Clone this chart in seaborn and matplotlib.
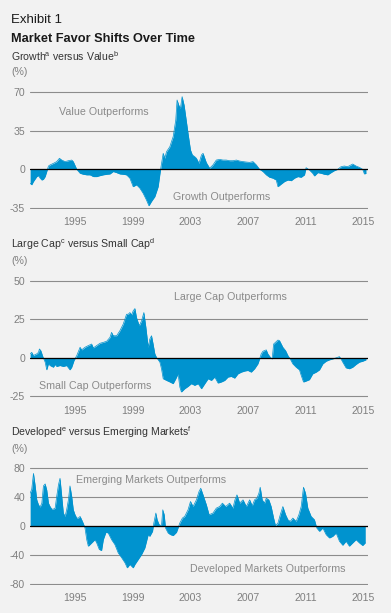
import numpy as np
import pandas as pd
import matplotlib
matplotlib.use("Agg")
import matplotlib.pyplot as plt
import seaborn as sns

# ---- data ----
gv_years = [1991.89, 1992.00, 1992.12, 1992.35, 1992.47, 1992.58, 1992.70, 1992.81, 1992.93, 1993.04,
            1993.16, 1993.27, 1993.50, 1993.73, 1993.92, 1994.08, 1994.31, 1994.54, 1994.77, 1994.88,
            1995.12, 1995.35, 1995.58, 1995.81, 1996.04, 1996.27, 1996.50, 1996.73, 1996.96, 1997.19,
            1997.42, 1997.65, 1997.88, 1998.11, 1998.34, 1998.57, 1998.80, 1999.03, 1999.26, 1999.49,
            1999.72, 1999.95, 2000.12, 2000.30, 2000.53, 2000.76, 2000.92, 2001.11, 2001.22, 2001.34,
            2001.57, 2001.68, 2001.80, 2001.98, 2002.07, 2002.19, 2002.30, 2002.42, 2002.56, 2002.67,
            2002.83, 2003.00, 2003.13, 2003.29, 2003.41, 2003.59, 2003.76, 2003.87, 2003.99, 2004.10,
            2004.33, 2004.56, 2004.79, 2005.02, 2005.25, 2005.48, 2005.71, 2005.94, 2006.18, 2006.41,
            2006.64, 2006.87, 2007.10, 2007.33, 2007.56, 2007.79, 2008.02, 2008.25, 2008.48, 2008.71,
            2008.94, 2009.06, 2009.29, 2009.52, 2009.75, 2009.98, 2010.21, 2010.44, 2010.67, 2010.90,
            2011.01, 2011.24, 2011.47, 2011.59, 2011.82, 2012.05, 2012.28, 2012.51, 2012.74, 2012.97,
            2013.20, 2013.43, 2013.66, 2013.89, 2014.12, 2014.24, 2014.47, 2014.70, 2014.93, 2015.05,
            2015.16]
gv_values = [-12.7, -14, -11, -6.6, -5.7, -8, -9.7, -9, -6.6, -2,
             3, 4, 5.4, 7, 10, 8.4, 7, 7.8, 8.4, 7,
             0, -3.6, -4.5, -5, -5, -6.6, -6.6, -5.7, -5, -4.5,
             -4.2, -2, -3, -4.2, -4.5, -5, -8, -15.7, -14, -17,
             -21.7, -27.8, -33, -29, -24.7, -15.7, -0.6, 14.5, 10, 16,
             20.5, 25, 29.6, 44.7, 62.8, 58, 55, 65.8, 58, 47.7,
             32.6, 17.5, 13, 11.5, 10, 5.4, 13, 14.5, 10, 6,
             1, 4, 8.4, 9, 8.4, 8.4, 7.8, 7.8, 8.4, 7.5,
             7, 6.6, 6.3, 7, 4, 0, -2, -5, -7.2, -8,
             -9.7, -15.7, -13.3, -11, -9.7, -10.3, -8, -6.6, -7.2, -5,
             1.5, -0.6, -3.6, -6, -3, -3.6, -4.5, -5, -3, -1.2,
             0, 2.4, 3, 2.4, 4, 4.8, 3, 1.8, 0, -4.2,
             -3.6]

lc_years = [1991.89, 1992.00, 1992.12, 1992.23, 1992.35, 1992.47, 1992.53, 1992.63, 1992.77, 1992.93,
            1993.04, 1993.16, 1993.27, 1993.50, 1993.62, 1993.73, 1993.96, 1994.19, 1994.42, 1994.65,
            1994.77, 1994.93, 1995.12, 1995.35, 1995.46, 1995.69, 1995.92, 1996.15, 1996.27, 1996.50,
            1996.73, 1996.96, 1997.19, 1997.42, 1997.53, 1997.65, 1997.88, 1998.11, 1998.34, 1998.57,
            1998.69, 1998.80, 1998.92, 1999.03, 1999.15, 1999.26, 1999.45, 1999.61, 1999.77, 1999.91,
            2000.07, 2000.18, 2000.30, 2000.41, 2000.53, 2000.65, 2000.88, 2000.99, 2001.11, 2001.34,
            2001.57, 2001.80, 2001.98, 2002.14, 2002.26, 2002.37, 2002.60, 2002.83, 2003.06, 2003.29,
            2003.53, 2003.76, 2003.99, 2004.22, 2004.45, 2004.68, 2004.91, 2005.14, 2005.37, 2005.60,
            2005.83, 2006.06, 2006.29, 2006.52, 2006.75, 2006.98, 2007.21, 2007.44, 2007.67, 2007.79,
            2007.90, 2008.02, 2008.25, 2008.36, 2008.53, 2008.66, 2008.76, 2008.89, 2009.06, 2009.17,
            2009.29, 2009.40, 2009.59, 2009.75, 2009.91, 2010.09, 2010.32, 2010.55, 2010.67, 2010.83,
            2011.01, 2011.24, 2011.47, 2011.71, 2011.94, 2012.17, 2012.40, 2012.63, 2012.86, 2013.09,
            2013.32, 2013.43, 2013.55, 2013.78, 2014.01, 2014.24, 2014.47, 2014.70, 2014.93, 2015.16]
lc_values = [2.4, 3.4, 1.3, 1.9, 2.4, 3.4, 5.6, 4.5, 0.6, -3,
             -8, -4, -5.2, -6.3, -4.5, -5.8, -5.2, -5.8, -5.2, -8,
             -6.3, -1.9, 1.3, 6.7, 5, 6.7, 7.8, 8.8, 6.3, 7.8,
             9.3, 9.9, 10.6, 13.1, 16.4, 14.2, 14.2, 17.5, 21.8, 28.2,
             28.2, 29.3, 27.8, 30.4, 31.9, 26, 20.7, 23.9, 29.3, 19.6,
             6.7, 12, 14.2, 8.8, 2.4, 0, -3, -7.3, -13.8, -14.9,
             -15.9, -17, -13.8, -10.6, -19.2, -22.4, -20.3, -18.8, -17, -18.1,
             -17, -20.3, -17, -13.8, -14.9, -12.7, -16.6, -15.9, -14.9, -12.7,
             -12.3, -13.4, -10.6, -9.5, -8.8, -8.4, -9.5, -7.3, -4.1, -0.9,
             2.4, 4.1, 5, 2.4, 0.2, -0.9, 8.8, 9.9, 11.4, 11,
             8.8, 6.7, 4.5, 1.3, -0.9, -4.1, -6.3, -8, -11.6, -15.9,
             -15.3, -14.4, -10.6, -9.5, -8, -4.1, -2.4, -1.5, -0.9, -0.2,
             0.6, -0.9, -3, -6.7, -7.3, -6.3, -4.5, -3, -2.4, -1.5]

dm_years = [1991.89, 1992.00, 1992.12, 1992.23, 1992.35, 1992.47, 1992.58, 1992.70, 1992.81, 1992.93,
            1993.04, 1993.16, 1993.27, 1993.39, 1993.50, 1993.62, 1993.73, 1993.85, 1993.96, 1994.08,
            1994.19, 1994.31, 1994.42, 1994.54, 1994.65, 1994.77, 1994.88, 1995.00, 1995.12, 1995.23,
            1995.35, 1995.46, 1995.58, 1995.69, 1995.81, 1995.92, 1996.04, 1996.27, 1996.38, 1996.50,
            1996.68, 1996.84, 1996.96, 1997.14, 1997.30, 1997.53, 1997.76, 1997.99, 1998.23, 1998.46,
            1998.62, 1998.80, 1999.03, 1999.15, 1999.38, 1999.61, 1999.84, 2000.07, 2000.18, 2000.37,
            2000.46, 2000.60, 2000.69, 2000.83, 2000.99, 2001.08, 2001.18, 2001.27, 2001.45, 2001.61,
            2001.80, 2002.03, 2002.26, 2002.44, 2002.60, 2002.83, 2003.00, 2003.18, 2003.41, 2003.59,
            2003.71, 2003.87, 2004.10, 2004.29, 2004.56, 2004.79, 2005.02, 2005.21, 2005.44, 2005.71,
            2005.94, 2006.08, 2006.22, 2006.41, 2006.64, 2006.87, 2007.10, 2007.28, 2007.44, 2007.60,
            2007.74, 2007.83, 2007.97, 2008.13, 2008.25, 2008.43, 2008.59, 2008.76, 2008.89, 2009.06,
            2009.22, 2009.40, 2009.59, 2009.75, 2009.91, 2010.09, 2010.32, 2010.51, 2010.67, 2010.83,
            2010.97, 2011.13, 2011.36, 2011.59, 2011.75, 2011.94, 2012.17, 2012.40, 2012.63, 2012.86,
            2013.09, 2013.32, 2013.55, 2013.78, 2014.01, 2014.24, 2014.47, 2014.70, 2014.93, 2015.11]
dm_values = [45.5, 51, 73, 57, 36.3, 29.4, 26.2, 31.7, 55.6, 58.4,
             50, 31.7, 27, 23.4, 23.4, 24.8, 41, 57, 66.2, 41,
             18, 13.3, 22.5, 36.3, 55.6, 41, 22.5, 15.6, 11, 11,
             13.3, 8.7, 3.2, -2.8, -18.9, -28, -25.7, -21.1, -18.9, -23.4,
             -32.6, -34, -18.9, -8.7, -9.7, -18.9, -25.7, -37.2, -44, -51,
             -58, -53.3, -58, -53.3, -46.4, -39.5, -30.3, -12, -14.3, -7.4,
             4.1, 18, 8.7, 1.8, 0.5, 22.5, 15.6, -2.8, -9.7, -12,
             -13.3, -8.7, 4.1, 11, 13.3, 22.5, 34, 27, 36.3, 47.8,
             52.4, 43.2, 29.4, 15.6, 18, 24.8, 27, 31.7, 27, 31.7,
             24.8, 36.3, 43.2, 31.7, 36.3, 27, 36.3, 28, 36.3, 38.6,
             45.5, 53.8, 36.3, 31.7, 38.6, 36.3, 27, 11, 0.5, 4.1,
             15.6, 27, 15.6, 8.7, 6.4, 11, 6.4, 15.6, 27, 53.8,
             45.5, 24.8, 13.3, 8.7, -2.8, -7.4, -2.8, -12, -16.6, -14.3,
             -9.7, -21.1, -26.7, -21.1, -28, -23.4, -18.9, -23.4, -27.1, -23.4]

year_ticks = [1995, 1999, 2003, 2007, 2011, 2015]

panels = [
    dict(years=gv_years, values=gv_values, ticks=[-35, 0, 35, 70], ylim=(-36, 71),
         title='Growth$^{\\mathregular{a}}$ versus Value$^{\\mathregular{b}}$',
         notes=[(1996.98, 51.6, 'Value Outperforms'), (2005.19, -25.4, 'Growth Outperforms')]),
    dict(years=lc_years, values=lc_values, ticks=[-25, 0, 25, 50], ylim=(-26, 51),
         title='Large Cap$^{\\mathregular{c}}$ versus Small Cap$^{\\mathregular{d}}$',
         notes=[(2005.78, 39.5, 'Large Cap Outperforms'), (1996.41, -18.7, 'Small Cap Outperforms')]),
    dict(years=dm_years, values=dm_values, ticks=[-80, -40, 0, 40, 80], ylim=(-82, 82),
         title='Developed$^{\\mathregular{e}}$ versus Emerging Markets$^{\\mathregular{f}}$',
         notes=[(2000.27, 63.8, 'Emerging Markets Outperforms'),
                (2008.38, -59.6, 'Developed Markets Outperforms')]),
]

# ---- style ----
BG = '#f2f2f2'
BLUE = '#0093cf'
GRAY = '#7f7f7f'
sns.set_theme(style='white', rc={'figure.facecolor': BG, 'axes.facecolor': BG})
plt.rcParams['font.family'] = ['Liberation Sans', 'DejaVu Sans']

W, H = 391, 613
fig = plt.figure(figsize=(W / 100, H / 100), dpi=100)


def px_axes(left, top, right, bottom):
    return fig.add_axes([left / W, 1 - bottom / H, (right - left) / W, (bottom - top) / H])


fig.text(11 / W, 1 - 23 / H, 'Exhibit 1', fontsize=9.5, color='#1a1a1a', va='baseline')
fig.text(11 / W, 1 - 42 / H, 'Market Favor Shifts Over Time', fontsize=9.2,
         fontweight='bold', color='#1a1a1a', va='baseline')

axes_px = [(90.9, 209.1), (279.2, 397.5), (466.9, 585.1)]
title_base = [(61, 75), (247.5, 264), (436, 452)]

for p, (top, bottom), (tb, pb) in zip(panels, axes_px, title_base):
    ax = px_axes(30, top, 368, bottom)
    df = pd.DataFrame({'year': p['years'], 'value': p['values']})
    ax.fill_between(df['year'], df['value'], 0, color=BLUE, lw=0, zorder=2)
    sns.lineplot(data=df, x='year', y='value', ax=ax, color=BLUE, lw=0.5, zorder=2)
    ax.axhline(0, color='black', lw=0.9, zorder=3)

    ax.set_xlim(1991.88, 2015.3)
    ax.set_ylim(*p['ylim'])
    ax.set_yticks(p['ticks'])
    ax.set_yticklabels([str(t) for t in p['ticks']])
    ax.set_xticks(year_ticks)
    ax.set_xticklabels([str(y) for y in year_ticks])
    ax.yaxis.grid(True, color='#8c8c8c', lw=0.8, zorder=1)
    ax.xaxis.grid(False)
    ax.set_axisbelow(True)
    for s in ax.spines.values():
        s.set_visible(False)
    ax.tick_params(axis='both', length=0, labelsize=7.6, labelcolor=GRAY)
    ax.tick_params(axis='y', pad=3.6)
    ax.tick_params(axis='x', pad=6)
    ax.set_xlabel('')
    ax.set_ylabel('')

    for x, y, txt in p['notes']:
        ax.text(x, y, txt, fontsize=7.7, color='#8a8a8a', ha='center', va='center', zorder=4)

    fig.text(11 / W, 1 - tb / H, p['title'], fontsize=7.6, color='#333333', va='baseline')
    fig.text(11 / W, 1 - pb / H, '(%)', fontsize=7.6, color=GRAY, va='baseline')

fig.savefig('out.png', dpi=100, facecolor=BG)
